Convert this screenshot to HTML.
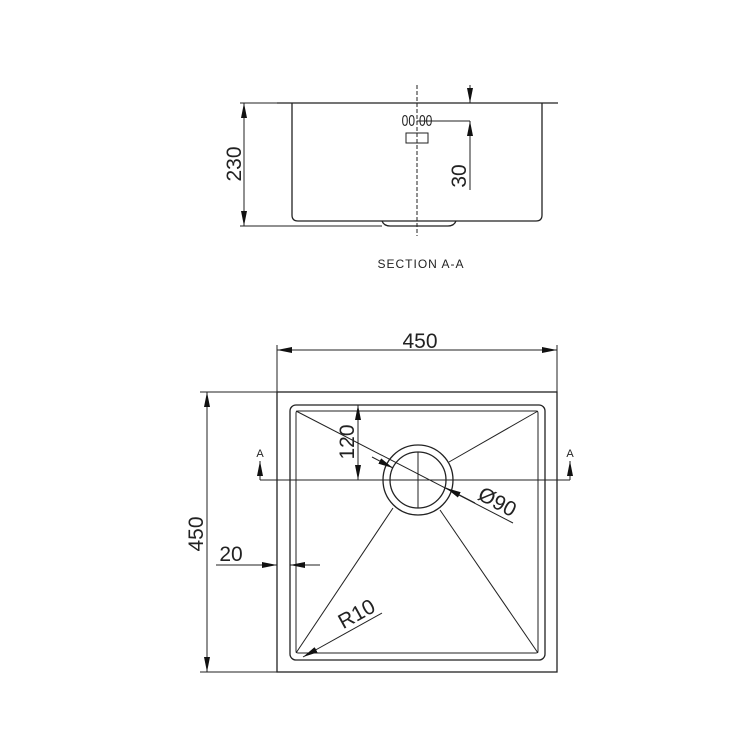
<!DOCTYPE html>
<html><head><style>html,body{margin:0;padding:0;background:#fff}</style></head>
<body>
<svg width="750" height="750" viewBox="0 0 750 750" xmlns="http://www.w3.org/2000/svg" font-family="Liberation Sans, sans-serif">
<defs>
<marker id="a" viewBox="0 0 10 4" refX="10" refY="2" markerWidth="15" markerHeight="6" markerUnits="userSpaceOnUse" orient="auto-start-reverse"><path d="M0,0L10,2L0,4z" fill="#111"/></marker>
</defs>
<g stroke="#222" fill="none" stroke-width="1.3">
<line x1="277" y1="103" x2="558" y2="103"/>
<path d="M292,103V215Q292,221 298,221H536Q542,221 542,215V103"/>
<path d="M382,221Q384,226 390,226H448Q454,226 456,221"/>
<line x1="417" y1="85" x2="417" y2="236" stroke-dasharray="4,2" stroke-width="1"/>
<line x1="240" y1="103" x2="277" y2="103" stroke-width="1"/>
<line x1="240" y1="226" x2="382" y2="226" stroke-width="1"/>
<line x1="244" y1="103" x2="244" y2="226" stroke-width="1" marker-start="url(#a)" marker-end="url(#a)"/>
<line x1="470" y1="85" x2="470" y2="103" stroke-width="1" marker-end="url(#a)"/>
<line x1="470" y1="190" x2="470" y2="121" stroke-width="1" marker-end="url(#a)"/>
<line x1="417" y1="121" x2="470" y2="121" stroke-width="1"/>
<rect x="406" y="133" width="22" height="10" stroke-width="1"/>
<rect x="277" y="392" width="280" height="280"/>
<rect x="290" y="405" width="255" height="255" rx="6"/>
<rect x="296" y="411" width="242" height="242" rx="2" stroke-width="1"/>
<circle cx="418" cy="480" r="35"/>
<circle cx="418" cy="480" r="28"/>
<line x1="418" y1="452" x2="418" y2="508" stroke-width="1"/>
<g stroke-width="1">
<line x1="296" y1="411" x2="513" y2="523"/>
<line x1="538" y1="411" x2="449" y2="462"/>
<line x1="296" y1="653" x2="393" y2="508"/>
<line x1="538" y1="653" x2="440" y2="510"/>
<line x1="372" y1="457" x2="393" y2="468" marker-end="url(#a)"/>
<line x1="475" y1="503" x2="446" y2="488" marker-end="url(#a)"/>
<line x1="260" y1="480" x2="570" y2="480"/>
<line x1="260" y1="480" x2="260" y2="461" marker-end="url(#a)"/>
<line x1="570" y1="480" x2="570" y2="461" marker-end="url(#a)"/>
<line x1="277" y1="350" x2="557" y2="350" marker-start="url(#a)" marker-end="url(#a)"/>
<line x1="277" y1="345" x2="277" y2="392"/>
<line x1="557" y1="345" x2="557" y2="392"/>
<line x1="200" y1="392" x2="277" y2="392"/>
<line x1="200" y1="672" x2="277" y2="672"/>
<line x1="207" y1="392" x2="207" y2="672" marker-start="url(#a)" marker-end="url(#a)"/>
<line x1="358" y1="405" x2="358" y2="480" marker-start="url(#a)" marker-end="url(#a)"/>
<line x1="216" y1="565" x2="277" y2="565" marker-end="url(#a)"/>
<line x1="320" y1="565" x2="290" y2="565" marker-end="url(#a)"/>
<line x1="382" y1="613" x2="303" y2="657" marker-end="url(#a)"/>
</g>
</g>
<g fill="#222" font-size="21">
<text x="420" y="348" text-anchor="middle">450</text>
<text transform="translate(203,534) rotate(-90)" text-anchor="middle">450</text>
<text transform="translate(241,164) rotate(-90)" text-anchor="middle">230</text>
<text transform="translate(466,176) rotate(-90)" text-anchor="middle">30</text>
<text transform="translate(354,442) rotate(-90)" text-anchor="middle">120</text>
<text x="231" y="561" text-anchor="middle">20</text>
<text transform="translate(360,620) rotate(-29)" text-anchor="middle">R10</text>
<text transform="translate(494,508) rotate(28)" text-anchor="middle">Ø90</text>
<text transform="translate(417,126) scale(0.75,1)" font-size="16" text-anchor="middle">00·00</text>
<text x="421" y="268" font-size="12" text-anchor="middle" letter-spacing="1">SECTION A-A</text>
<text x="260" y="457" font-size="11" text-anchor="middle">A</text>
<text x="570" y="457" font-size="11" text-anchor="middle">A</text>
</g>
</svg>
</body></html>
